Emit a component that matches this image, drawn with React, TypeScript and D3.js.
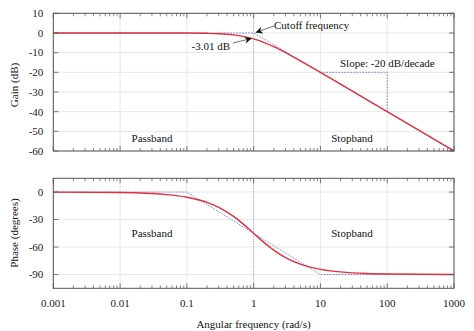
import React from "react";
import * as d3 from "d3";

const freqs = [0.001, 0.01, 0.05, 0.1, 0.2, 0.3, 0.5, 0.7, 1, 1.5, 2, 3, 5, 7, 10, 20, 50, 100, 1000];
const gainDb = [0, 0, -0.01, -0.04, -0.17, -0.37, -0.97, -1.74, -3.01, -5.12, -6.99, -10, -14.15, -17.0, -20.04, -26.0, -33.98, -40, -60];
const phaseDeg = [-0.06, -0.57, -2.86, -5.7, -11.3, -16.7, -26.6, -35, -45, -56.3, -63.4, -71.6, -78.7, -81.9, -84.3, -87.1, -88.9, -89.4, -89.9];

const gainAsymF = [0.001, 1, 1000];
const gainAsymV = [0, 0, -60];
const phaseAsymF = [0.001, 0.1, 10, 1000];
const phaseAsymV = [0, 0, -90, -90];

const xTickVals = [0.001, 0.01, 0.1, 1, 10, 100, 1000];
const xTickLabels = ["0.001", "0.01", "0.1", "1", "10", "100", "1000"];
const gainTicks = [10, 0, -10, -20, -30, -40, -50, -60];
const phaseTicks = [0, -30, -60, -90];

const FONT = "'Liberation Serif', 'DejaVu Serif', serif";
const L = 53.3, R = 454;
const RED = "#e0313c";
const BLUE = "#6a6ae8";
const FRAME = "#555";
const GRID = "#e2e2e2";

const x = d3.scaleLog().domain([0.001, 1000]).range([L, R]);
const yG = d3.scaleLinear().domain([-60, 10]).range([151, 13.3]);
const yP = d3.scaleLinear().domain([-105, 15]).range([288.3, 178.3]);

const minorTicks: number[] = [];
for (let e = -3; e < 3; e++) {
  for (let m = 2; m <= 9; m++) minorTicks.push(m * Math.pow(10, e));
}

function Panel({ y, yTicks, top, bottom }: { y: d3.ScaleLinear<number, number>; yTicks: number[]; top: number; bottom: number }) {
  return (
    <g>
      {xTickVals.map((v, i) => (
        <line key={"gx" + i} x1={x(v)} x2={x(v)} y1={top} y2={bottom} stroke={GRID} strokeWidth={0.8} />
      ))}
      {yTicks.map((v, i) => (
        <line key={"gy" + i} x1={L} x2={R} y1={y(v)} y2={y(v)} stroke={GRID} strokeWidth={0.8} />
      ))}
      <line x1={x(1)} x2={x(1)} y1={top} y2={bottom} stroke="#8a8ab0" strokeWidth={0.8} strokeDasharray="1,1.5" />
    </g>
  );
}

function Frame({ y, yTicks, top, bottom }: { y: d3.ScaleLinear<number, number>; yTicks: number[]; top: number; bottom: number }) {
  return (
    <g>
      {minorTicks.map((v, i) => (
        <g key={"mt" + i}>
          <line x1={x(v)} x2={x(v)} y1={bottom} y2={bottom - 3} stroke={FRAME} strokeWidth={0.7} />
          <line x1={x(v)} x2={x(v)} y1={top} y2={top + 3} stroke={FRAME} strokeWidth={0.7} />
        </g>
      ))}
      {xTickVals.map((v, i) => (
        <g key={"Mt" + i}>
          <line x1={x(v)} x2={x(v)} y1={bottom} y2={bottom - 5} stroke={FRAME} strokeWidth={0.8} />
          <line x1={x(v)} x2={x(v)} y1={top} y2={top + 5} stroke={FRAME} strokeWidth={0.8} />
        </g>
      ))}
      {yTicks.map((v, i) => (
        <g key={"yt" + i}>
          <line x1={L} x2={L + 5} y1={y(v)} y2={y(v)} stroke={FRAME} strokeWidth={0.8} />
          <line x1={R} x2={R - 5} y1={y(v)} y2={y(v)} stroke={FRAME} strokeWidth={0.8} />
          <text x={L - 10} y={y(v)} dy="0.35em" textAnchor="end" fontSize={11} fontFamily={FONT} fill="#222">{v}</text>
        </g>
      ))}
      <rect x={L} y={top} width={R - L} height={bottom - top} fill="none" stroke={FRAME} strokeWidth={1} />
    </g>
  );
}

export default function App() {
  const lineG = d3.line<number>().x((_, i) => x(freqs[i])).y((d) => yG(d)).curve(d3.curveMonotoneX);
  const lineP = d3.line<number>().x((_, i) => x(freqs[i])).y((d) => yP(d)).curve(d3.curveMonotoneX);
  const asG = d3.line<number>().x((_, i) => x(gainAsymF[i])).y((d) => yG(d));
  const asP = d3.line<number>().x((_, i) => x(phaseAsymF[i])).y((d) => yP(d));

  const cutX = x(1), cutY0 = yG(0), cutY3 = yG(-3.01);

  return (
    <svg width={474} height={331} style={{ position: "absolute", left: 0, top: 0, background: "#fff" }}>
      <defs>
        <marker id="ah" viewBox="0 0 10 10" refX="10" refY="5" markerWidth="9" markerHeight="7" orient="auto" markerUnits="userSpaceOnUse">
          <path d="M0,0 L10,5 L0,10 L3,5 z" fill="#111" />
        </marker>
      </defs>
      <rect width={474} height={331} fill="#fff" />
      <Panel y={yG} yTicks={gainTicks} top={13.3} bottom={151} />
      <Panel y={yP} yTicks={phaseTicks} top={178.3} bottom={288.3} />

      {/* asymptotes */}
      <path d={asG(gainAsymV) || ""} fill="none" stroke={BLUE} strokeWidth={0.9} strokeDasharray="1.5,1.5" />
      <path d={asP(phaseAsymV) || ""} fill="none" stroke={BLUE} strokeWidth={0.9} strokeDasharray="1.5,1.5" />
      <path d={`M${x(10)},${yG(-20)} H${x(100)} V${yG(-40)}`} fill="none" stroke={BLUE} strokeWidth={0.9} strokeDasharray="1.5,1.5" />

      <path d={lineG(gainDb) || ""} fill="none" stroke={RED} strokeWidth={1.4} />
      <path d={lineP(phaseDeg) || ""} fill="none" stroke={RED} strokeWidth={1.4} />

      <Frame y={yG} yTicks={gainTicks} top={13.3} bottom={151} />
      <Frame y={yP} yTicks={phaseTicks} top={178.3} bottom={288.3} />

      {/* annotations */}
      <line x1={274} x2={cutX + 2} y1={26} y2={cutY0 - 0.5} stroke="#333" strokeWidth={0.7} markerEnd="url(#ah)" />
      <text x={274} y={25} dy="0.35em" fontSize={11} fontFamily={FONT} fill="#111">Cutoff frequency</text>
      <line x1={233} x2={cutX - 2} y1={43} y2={cutY3 - 0.5} stroke="#333" strokeWidth={0.7} markerEnd="url(#ah)" />
      <text x={230} y={46} dy="0.35em" textAnchor="end" fontSize={11} fontFamily={FONT} fill="#111">-3.01 dB</text>
      <text x={340} y={62.7} dy="0.35em" fontSize={11} fontFamily={FONT} fill="#111">Slope: -20 dB/decade</text>

      <text x={152} y={137.7} dy="0.35em" textAnchor="middle" fontSize={11} fontFamily={FONT} fill="#111">Passband</text>
      <text x={352} y={137.7} dy="0.35em" textAnchor="middle" fontSize={11} fontFamily={FONT} fill="#111">Stopband</text>
      <text x={152} y={233.5} dy="0.35em" textAnchor="middle" fontSize={11} fontFamily={FONT} fill="#111">Passband</text>
      <text x={352} y={233.5} dy="0.35em" textAnchor="middle" fontSize={11} fontFamily={FONT} fill="#111">Stopband</text>

      {xTickVals.map((v, i) => (
        <text key={"xl" + i} x={x(v)} y={303.5} dy="0.35em" textAnchor="middle" fontSize={11} fontFamily={FONT} fill="#222">{xTickLabels[i]}</text>
      ))}
      <text x={253.5} y={324} dy="0.35em" textAnchor="middle" fontSize={11} fontFamily={FONT} fill="#111">Angular frequency (rad/s)</text>
      <text transform={`translate(14,85) rotate(-90)`} dy="0.35em" textAnchor="middle" fontSize={11} fontFamily={FONT} fill="#111">Gain (dB)</text>
      <text transform={`translate(14,233) rotate(-90)`} dy="0.35em" textAnchor="middle" fontSize={11} fontFamily={FONT} fill="#111">Phase (degrees)</text>
    </svg>
  );
}
